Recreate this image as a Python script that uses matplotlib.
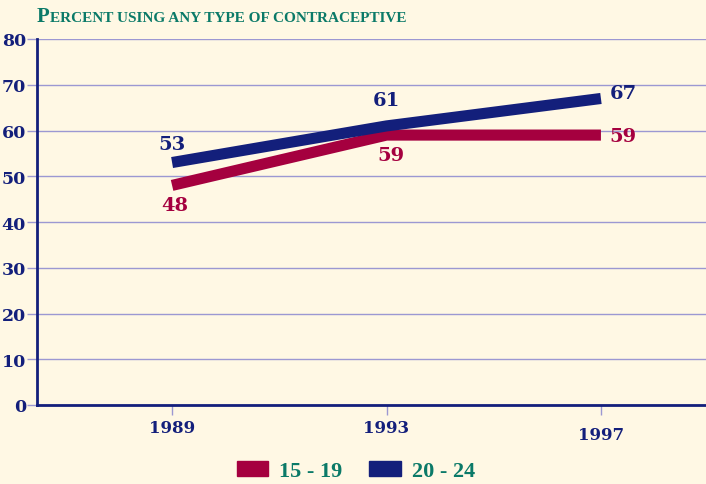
import matplotlib
matplotlib.use("Agg")
import matplotlib.pyplot as plt
from matplotlib.patches import Patch
import matplotlib.transforms as mtransforms

years = [1989, 1993, 1997]
age_15_19 = [48, 59, 59]
age_20_24 = [53, 61, 67]
series_names = ["15 - 19", "20 - 24"]
y_ticks = [0, 10, 20, 30, 40, 50, 60, 70, 80]

BG = "#FFF8E4"
RED = "#A5003F"
NAVY = "#131F7B"
TEAL = "#0B7A68"
GRID = "#9C98D2"
FONT = "DejaVu Serif"
FONT2 = "Liberation Serif"

fig = plt.figure(figsize=(7.06, 4.85), dpi=100, facecolor=BG)
ax = fig.add_axes([37/706, 1 - 406/485, 1 - 37/706, (406 - 40)/485])
ax.set_facecolor(BG)

ax.plot(years, age_15_19, color=RED, lw=8, solid_capstyle="butt", solid_joinstyle="miter", zorder=3)
ax.plot(years, age_20_24, color=NAVY, lw=8, solid_capstyle="butt", solid_joinstyle="miter", zorder=4)

ax.set_xlim(1986.48, 1998.96)
ax.set_ylim(0, 80)
ax.set_yticks(y_ticks)
ax.set_xticks(years)
ax.grid(axis="y", color=GRID, lw=1.0, zorder=1)
ax.set_axisbelow(True)

for s in ["top", "right"]:
    ax.spines[s].set_visible(False)
for s in ["left", "bottom"]:
    ax.spines[s].set_color(NAVY)
    ax.spines[s].set_linewidth(2)

ax.tick_params(axis="y", length=7, width=1, color=GRID, pad=1, labelsize=12.5, labelcolor=NAVY)
ax.tick_params(axis="x", length=7, width=1, color=GRID, pad=3, labelsize=12, labelcolor=NAVY, direction="out")
for lab in ax.get_yticklabels() + ax.get_xticklabels():
    lab.set_fontfamily(FONT)
    lab.set_fontweight("bold")

# 1997 label sits lower in the reference
fig.canvas.draw()
xl = ax.get_xticklabels()
off = mtransforms.ScaledTranslation(0, -7/100, fig.dpi_scale_trans)
xl[2].set_transform(xl[2].get_transform() + off)

lab_kw = dict(textcoords="offset points", fontsize=14, fontweight="bold", family=FONT,
              ha="center", va="center", zorder=5)
# 20-24 labels
ax.annotate(str(age_20_24[0]), (years[0], age_20_24[0]), xytext=(0, 13), color=NAVY, **lab_kw)
ax.annotate(str(age_20_24[1]), (years[1], age_20_24[1]), xytext=(0, 19), color=NAVY, **lab_kw)
ax.annotate(str(age_20_24[2]), (years[2], age_20_24[2]), xytext=(16, 4), color=NAVY, **lab_kw)
# 15-19 labels
ax.annotate(str(age_15_19[0]), (years[0], age_15_19[0]), xytext=(2, -14), color=RED, **lab_kw)
ax.annotate(str(age_15_19[1]), (years[1], age_15_19[1]), xytext=(3, -14), color=RED, **lab_kw)
ax.annotate(str(age_15_19[2]), (years[2], age_15_19[2]), xytext=(16, -1), color=RED, **lab_kw)

# Title in small caps style
t1 = fig.text(37/706, 1 - 22/485, "P", color=TEAL, fontsize=15, fontweight="bold",
              family=FONT2, ha="left", va="baseline")
fig.canvas.draw()
bb = t1.get_window_extent()
fig.text(bb.x1/706, 1 - 22/485, "ERCENT USING ANY TYPE OF CONTRACEPTIVE", color=TEAL,
         fontsize=11, fontweight="bold", family=FONT2, ha="left", va="baseline")

handles = [Patch(facecolor=RED, edgecolor=RED), Patch(facecolor=NAVY, edgecolor=NAVY)]
leg = fig.legend(handles, series_names, loc="center", bbox_to_anchor=(356/706, 1 - 472/485),
                 ncol=2, frameon=False, handlelength=1.4, handleheight=0.63, handletextpad=0.53,
                 columnspacing=1.2, borderpad=0, prop={"family": FONT2, "weight": "bold", "size": 16})
for txt in leg.get_texts():
    txt.set_color(TEAL)

fig.savefig("out.png", dpi=100, facecolor=BG)
